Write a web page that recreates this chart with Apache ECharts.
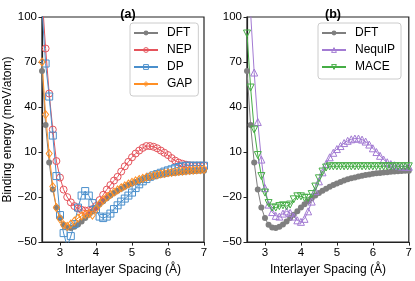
<!DOCTYPE html>
<html><head><meta charset="utf-8">
<script src="https://cdn.jsdelivr.net/npm/echarts@6/dist/echarts.min.js"></script>
<style>html,body{margin:0;padding:0;background:#fff}#c{width:415px;height:281px}</style>
</head><body><div id="c"></div>
<script>
const xValues = [2.5,2.6,2.7,2.8,2.9,3.0,3.1,3.2,3.3,3.4,3.5,3.6,3.7,3.8,3.9,4.0,4.1,4.2,4.3,4.4,4.5,4.6,4.7,4.8,4.9,5.0,5.1,5.2,5.3,5.4,5.5,5.6,5.7,5.8,5.9,6.0,6.1,6.2,6.3,6.4,6.5,6.6,6.7,6.8,6.9,7.0];
const dft = [64,28,3,-15,-27,-34,-38.5,-40.3,-40.6,-39.8,-38.2,-36.2,-34,-31.7,-29.4,-27,-24.8,-22.7,-20.8,-19,-17.3,-15.8,-14.4,-13.1,-11.9,-10.9,-9.9,-9.0,-8.2,-7.5,-6.9,-6.3,-5.8,-5.3,-4.9,-4.5,-4.2,-3.9,-3.6,-3.4,-3.2,-3.0,-2.8,-2.6,-2.5,-2.4];
const nep = [115,79,49,25,4,-7,-15,-20,-23.5,-26,-27.5,-28.5,-29,-28.8,-28,-26,-22,-18.5,-15,-12,-9,-6.5,-3,0.5,3.5,6.5,9,11,12.8,14,14,13.5,12.5,11,9.5,8,6,4.3,3,2.2,1.6,1.2,1,1,1,1];
const dp = [105,69,47,21,-6,-32,-44,-53,-46,-38,-27,-19,-16,-19,-24,-28,-33,-34,-33,-31,-28,-25.5,-23,-21,-19,-17,-14,-11.5,-9.5,-8,-6.5,-5.5,-4.7,-3.8,-3,-2.2,-1.5,-0.7,0,0.5,0.9,0.9,0.9,0.9,0.9,0.9];
const gap = [70,35,9,-13,-27,-34.5,-38.5,-39.5,-38,-36,-34,-32.5,-31.5,-31,-32,-28,-24.5,-22,-20,-18.3,-16.7,-15.2,-13.8,-12.5,-11.3,-10.2,-9.2,-8.3,-7.5,-6.8,-6.2,-5.6,-5.1,-4.6,-4.2,-3.8,-3.5,-3.2,-2.9,-2.7,-2.5,-2.3,-2.1,-1.9,-1.8,-1.6];
const nequip = [140,103,63,30,5,-14,-25,-30,-32.5,-33,-31,-29.5,-30.5,-33,-35.5,-36.5,-34.5,-29.5,-23,-16,-9.5,-3.5,2,6.5,9.5,12,14,16,17.5,18.5,19,19,18.3,17,15,12.5,10,7.5,5,3.2,2,1.2,0.7,0.4,0.3,0.2];
const mace = [89,53,25,8,-6,-17,-24,-27,-27,-26,-25.5,-26,-25,-21.5,-19.5,-19.5,-20.5,-20.5,-18,-13,-7.5,-3,-0.3,0.5,0.5,0.5,0.5,0.5,0.5,0.5,0.5,0.5,0.5,0.5,0.5,0.5,0.5,0.5,0.5,0.5,0.5,0.5,0.5,0.5,0.5,0.5];
const xTicks = [3,4,5,6,7];
const panelTitles = ['(a)','(b)'];
const yName = 'Binding energy (meV/atom)';
const xName = 'Interlayer Spacing (Å)';

const FONT = 'Liberation Sans, Arial, sans-serif';
const AX = '#222';
const pairs = ys => xValues.map((x,i)=>[x, ys[i]]);
const minus = v => String(v).replace('-', '\u2212');

function xAxis(idx){
  return {gridIndex: idx, type:'value', min:2.5, max:7,
    name: xName, nameLocation:'middle', nameGap:19,
    nameTextStyle:{fontFamily:FONT, fontSize:12, color:'#000'},
    axisLine:{show:true, onZero:false, lineStyle:{color:AX, width:1.2}},
    axisTick:{show:true, length:3.5, customValues:xTicks, lineStyle:{color:AX}},
    axisLabel:{customValues:xTicks, fontFamily:FONT, fontSize:11.5, color:'#000', margin:5, formatter: v=>minus(v)},
    splitLine:{show:false}};
}
function yAxis(idx, named){
  return {gridIndex: idx, type:'value', min:-50, max:100, interval:30,
    name: named ? yName : '', nameLocation:'middle', nameGap:28,
    nameTextStyle:{fontFamily:FONT, fontSize:12, color:'#000'},
    axisLine:{show:true, onZero:false, lineStyle:{color:AX, width:1.2}},
    axisTick:{show:true, length:3.5, lineStyle:{color:AX}},
    axisLabel:{fontFamily:FONT, fontSize:11.5, color:'#000', margin:5, formatter: v=>minus(v)},
    splitLine:{show:false}};
}
const HOLLOW = c => ({color:'rgba(255,255,255,0)', borderColor:c, borderWidth:1});
function mk(name, ys, gi, color, symbol, size, filled, rot){
  return {name, type:'line', xAxisIndex:gi, yAxisIndex:gi, data:pairs(ys),
    symbol, symbolSize:size, symbolRotate: rot||0, showSymbol:true, clip:true,
    lineStyle:{color, width:1},
    itemStyle: filled ? {color} : HOLLOW(color),
    emphasis:{disabled:true}, animation:false};
}
const C = {dft:'#7f7f7f', nep:'#e5535b', dp:'#4a8fcc', gap:'#ff8f24', nequip:'#a37bd3', mace:'#45ad45'};
function legend(items, left){
  return {data:items, orient:'vertical', left, top:23, selectedMode:false,
    backgroundColor:'#fff', borderColor:'#ccc', borderWidth:1, borderRadius:3,
    padding:[4,6,6,3], itemGap:5, itemWidth:24, itemHeight:6,
    textStyle:{fontFamily:FONT, fontSize:12, color:'#000', lineHeight:12, padding:[0,0,0,4]}};
}
const chart = echarts.init(document.getElementById('c'), null, {renderer:'canvas'});
chart.setOption({
  animation:false,
  backgroundColor:'#fff',
  title:[
    {text:panelTitles[0], left:123, top:3, textAlign:'center', textStyle:{fontFamily:FONT, fontSize:12.5, fontWeight:'bold', color:'#000'}},
    {text:panelTitles[1], left:328, top:3, textAlign:'center', textStyle:{fontFamily:FONT, fontSize:12.5, fontWeight:'bold', color:'#000'}}
  ],
  grid:[
    {left:42, top:17, width:162, height:229, show:true, borderColor:AX, borderWidth:1.2, backgroundColor:'rgba(0,0,0,0)'},
    {left:247, top:17, width:162, height:229, show:true, borderColor:AX, borderWidth:1.2, backgroundColor:'rgba(0,0,0,0)'}
  ],
  xAxis:[xAxis(0), xAxis(1)],
  yAxis:[yAxis(0,true), yAxis(1,false)],
  legend:[
    legend([{name:'DFT'},{name:'NEP', itemStyle:HOLLOW(C.nep)},{name:'DP', itemStyle:HOLLOW(C.dp)},{name:'GAP', itemStyle:HOLLOW(C.gap)}],130),
    legend([{name:'DFT '},{name:'NequIP', itemStyle:HOLLOW(C.nequip)},{name:'MACE', itemStyle:HOLLOW(C.mace)}],318)
  ],
  series:[
    mk('DFT', dft, 0, C.dft, 'circle', 6, true),
    mk('NEP', nep, 0, C.nep, 'circle', 7, false),
    mk('DP', dp, 0, C.dp, 'rect', 7, false),
    mk('GAP', gap, 0, C.gap, 'diamond', [6,8], false),
    mk('DFT ', dft, 1, C.dft, 'circle', 6, true),
    mk('NequIP', nequip, 1, C.nequip, 'triangle', 7, false),
    mk('MACE', mace, 1, C.mace, 'triangle', 7, false, 180)
  ]
});
</script></body></html>
